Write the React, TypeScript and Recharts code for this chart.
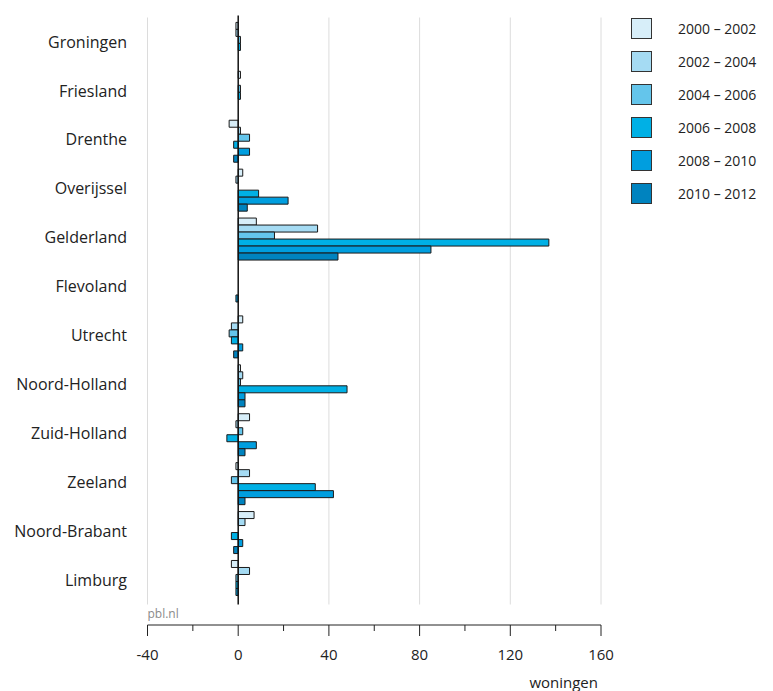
import React from 'react';
import { BarChart, Bar, XAxis, YAxis, CartesianGrid, ReferenceLine, Legend, Label } from 'recharts';

// provincies, van boven naar beneden
const provinces = [
  'Groningen', 'Friesland', 'Drenthe', 'Overijssel', 'Gelderland', 'Flevoland',
  'Utrecht', 'Noord-Holland', 'Zuid-Holland', 'Zeeland', 'Noord-Brabant', 'Limburg',
];

const periods = ['2000 – 2002', '2002 – 2004', '2004 – 2006', '2006 – 2008', '2008 – 2010', '2010 – 2012'];
const colors = ['#d7eef9', '#a5dbf3', '#64c5eb', '#00b0e5', '#009edf', '#0083bf'];

// woningen per periode, in volgorde van provinces
const p2000 = [-1, 1, -4, 2, 8, 0, 2, 1, 5, -1, 7, -3];
const p2002 = [-1, 0, 1, -1, 35, 0, -3, 2, -1, 5, 3, 5];
const p2004 = [1, 1, 5, 0, 16, 0, -4, 1, 2, -3, 0, -1];
const p2006 = [1, 1, -2, 9, 137, 0, -3, 48, -5, 34, -3, -1];
const p2008 = [0, 0, 5, 22, 85, -1, 2, 3, 8, 42, 2, -1];
const p2010 = [0, 0, -2, 4, 44, 0, -2, 3, 3, 3, -2, 0];

const xTicks = [-40, -20, 0, 20, 40, 60, 80, 100, 120, 140, 160];
const gridValues = [-40, 40, 80, 120, 160];

const series = [p2000, p2002, p2004, p2006, p2008, p2010];
const keys = ['p0', 'p1', 'p2', 'p3', 'p4', 'p5'];

const data = provinces.map((name, i) => {
  const row: any = { province: name };
  series.forEach((s, j) => { row[keys[j]] = s[i]; });
  return row;
});

const AXIS_GAP = 20.5; // ruimte tussen laatste provincie en de x-as

const XTick = (props: any) => {
  const { x, y, payload } = props;
  const major = payload.value % 40 === 0;
  return (
    <g>
      <line x1={x} x2={x} y1={y} y2={y + (major ? 11 : 6)} stroke="#222" strokeWidth={1} />
      {major && (
        <text x={x} y={y + 35} textAnchor="middle" fontSize={15} fill="#222">{payload.value}</text>
      )}
    </g>
  );
};

const GridLine = (p: any) => (
  <line key={p.key} x1={p.x1} x2={p.x2} y1={p.y1} y2={p.y2 - AXIS_GAP} stroke="#dcdcdc" strokeWidth={1} />
);

const ZeroLine = (p: any) => (
  <line x1={p.x1} x2={p.x2} y1={Math.min(p.y1, p.y2) - 2} y2={Math.max(p.y1, p.y2) - AXIS_GAP} stroke="#111" strokeWidth={1.5} />
);

const LegendContent = (props: any) => {
  const { payload } = props;
  return (
    <div>
      {(payload || []).map((entry: any, i: number) => (
        <div key={i} style={{ display: 'flex', alignItems: 'center', height: 33 }}>
          <div style={{ width: 21, height: 21, background: entry.color, border: '1px solid #333', boxSizing: 'border-box', marginRight: 26 }} />
          <span style={{ fontSize: 14, color: '#222' }}>{entry.value}</span>
        </div>
      ))}
    </div>
  );
};

export default function App() {
  return (
    <div style={{ position: 'absolute', left: 0, top: 0, fontFamily: '"Open Sans", sans-serif', background: '#fff' }}>
      <BarChart
        width={773}
        height={691}
        data={data}
        layout="vertical"
        margin={{ top: 17.5, right: 172, bottom: 0, left: 7.5 }}
        barCategoryGap="10%"
        barGap={0}
      >
        <CartesianGrid horizontal={false} vertical={GridLine} verticalValues={gridValues} />
        <XAxis
          type="number"
          domain={[-40, 160]}
          ticks={xTicks}
          interval={0}
          allowDataOverflow
          height={66}
          tickSize={0}
          tickMargin={0}
          tick={<XTick />}
          axisLine={{ stroke: '#222' }}
          tickLine={false}
        >
          <Label value="woningen" position="insideBottomRight" offset={3} fontSize={15} fill="#222" />
        </XAxis>
        <YAxis
          type="category"
          dataKey="province"
          width={140}
          padding={{ top: 0, bottom: AXIS_GAP }}
          axisLine={false}
          tickLine={false}
          tickSize={0}
          tickMargin={20.5}
          interval={0}
          tick={{ fontSize: 16, fill: '#222' }}
        >
          <Label
            content={(p: any) => (
              <text x={p.viewBox.x + p.viewBox.width} y={p.viewBox.y + p.viewBox.height - 7} fontSize={12} fill="#8a8a8a">pbl.nl</text>
            )}
          />
        </YAxis>
        {keys.map((k, j) => (
          <Bar key={k} dataKey={k} name={periods[j]} fill={colors[j]} stroke="#1a1a1a" strokeWidth={1} isAnimationActive={false} />
        ))}
        <ReferenceLine x={0} shape={ZeroLine} />
        <Legend
          layout="horizontal"
          verticalAlign="middle"
          align="center"
          content={<LegendContent />}
          wrapperStyle={{ position: 'absolute', left: 631, top: 12, width: 142, height: 200 }}
        />
      </BarChart>
    </div>
  );
}
